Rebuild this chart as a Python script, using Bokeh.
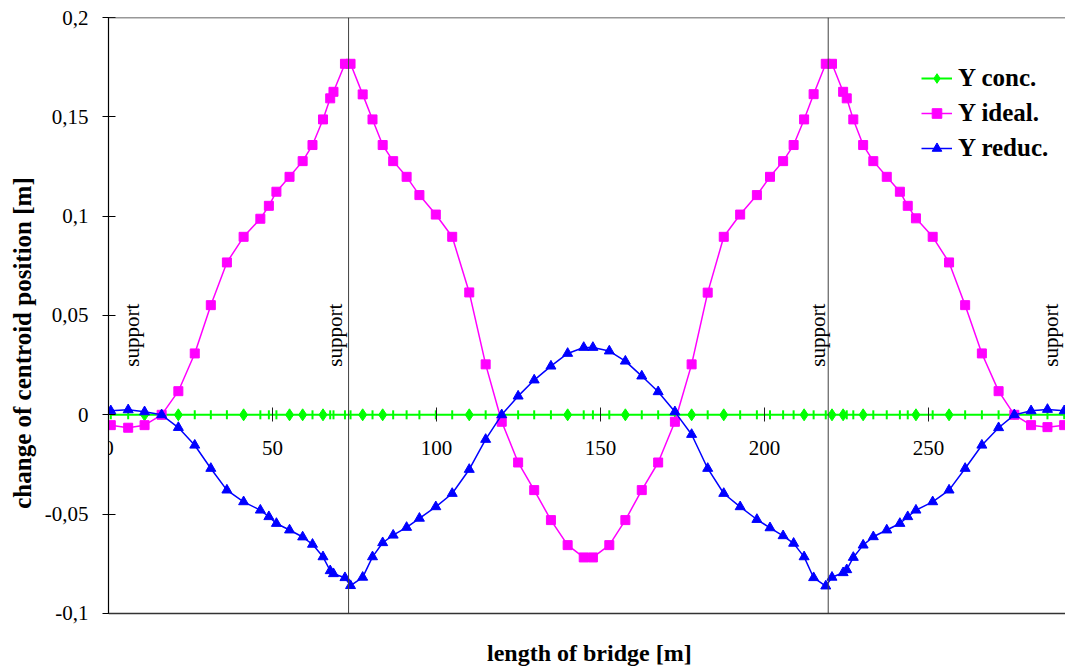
import numpy as np
from bokeh.plotting import figure
from bokeh.models import Span, FixedTicker, Legend, LegendItem, Range1d
from bokeh.embed import file_html
from bokeh.resources import INLINE
from bokeh.core.properties import value

# ---------------- data ----------------
x_pos = [
    0.7, 6.0, 11.0, 16.2, 21.3, 26.3, 31.2, 36.1, 41.2, 46.3,
    48.9, 51.2, 55.2, 59.2, 62.2, 65.4, 67.6, 68.6, 72.1, 73.8,
    77.5, 80.5, 83.6, 86.8, 90.9, 94.8, 99.8, 104.8, 110.0, 115.0,
    119.9, 124.9, 129.8, 134.9, 140.0, 144.9, 147.7, 152.7, 157.6, 162.6,
    167.6, 172.7, 177.8, 182.7, 187.6, 192.6, 197.7, 201.7, 205.7, 208.9,
    212.1, 215.0, 218.7, 220.6, 224.0, 225.1, 227.1, 230.1, 233.2, 237.3,
    241.3, 243.7, 246.2, 251.3, 256.3, 261.2, 266.3, 271.4, 276.2, 281.3,
    286.3, 291.4]

y_conc = [
    0.0, 0.0, 0.0, 0.0, 0.0, 0.0, 0.0, 0.0, 0.0, 0.0,
    0.0, 0.0, 0.0, 0.0, 0.0, 0.0, 0.0, 0.0, 0.0, 0.0,
    0.0, 0.0, 0.0, 0.0, 0.0, 0.0, 0.0, 0.0, 0.0, 0.0,
    0.0, 0.0, 0.0, 0.0, 0.0, 0.0, 0.0, 0.0, 0.0, 0.0,
    0.0, 0.0, 0.0, 0.0, 0.0, 0.0, 0.0, 0.0, 0.0, 0.0,
    0.0, 0.0, 0.0, 0.0, 0.0, 0.0, 0.0, 0.0, 0.0, 0.0,
    0.0, 0.0, 0.0, 0.0, 0.0, 0.0, 0.0, 0.0, 0.0, 0.0,
    0.0, 0.0]

y_ideal = [
    -0.0052, -0.0065, -0.0052, 0.0000, 0.0119, 0.0309, 0.0552, 0.0767, 0.0896, 0.0987,
    0.1052, 0.1123, 0.1198, 0.1277, 0.1358, 0.1487, 0.1593, 0.1626, 0.1767, 0.1767,
    0.1613, 0.1487, 0.1358, 0.1277, 0.1198, 0.1106, 0.1008, 0.0896, 0.0616, 0.0254,
    -0.0035, -0.0240, -0.0379, -0.0530, -0.0656, -0.0718, -0.0718, -0.0656, -0.0530, -0.0379,
    -0.0240, -0.0035, 0.0254, 0.0615, 0.0896, 0.1008, 0.1106, 0.1198, 0.1277, 0.1358,
    0.1487, 0.1614, 0.1767, 0.1767, 0.1626, 0.1593, 0.1487, 0.1358, 0.1277, 0.1198,
    0.1123, 0.1052, 0.0989, 0.0896, 0.0767, 0.0552, 0.0309, 0.0119, 0.0000, -0.0052,
    -0.0062, -0.0052]

y_reduc = [
    0.0020, 0.0025, 0.0015, 0.0000, -0.0064, -0.0153, -0.0270, -0.0379, -0.0438, -0.0480,
    -0.0513, -0.0547, -0.0580, -0.0615, -0.0652, -0.0715, -0.0785, -0.0800, -0.0820, -0.0860,
    -0.0818, -0.0715, -0.0644, -0.0606, -0.0567, -0.0521, -0.0463, -0.0396, -0.0275, -0.0124,
    0.0000, 0.0094, 0.0175, 0.0245, 0.0309, 0.0339, 0.0339, 0.0321, 0.0270, 0.0195,
    0.0116, 0.0015, -0.0099, -0.0270, -0.0396, -0.0463, -0.0527, -0.0569, -0.0609, -0.0647,
    -0.0715, -0.0820, -0.0862, -0.0818, -0.0795, -0.0780, -0.0718, -0.0656, -0.0614, -0.0580,
    -0.0547, -0.0513, -0.0480, -0.0438, -0.0379, -0.0270, -0.0153, -0.0065, 0.0000, 0.0020,
    0.0027, 0.0020]

# marker look of each "Y conc." point as seen in the picture (d = diamond, | = tick)
conc_marker = [
    "|", "|", "d", "|", "d", "|", "|", "|", "d", "|",
    "|", "|", "d", "d", "|", "d", "|", "|", "|", "|",
    "d", "|", "d", "|", "|", "|", "|", "|", "d", "|",
    "|", "|", "|", "|", "d", "|", "|", "|", "d", "|",
    "|", "|", "d", "|", "d", "|", "|", "|", "|", "|",
    "d", "|", "|", "d", "d", "|", "|", "d", "|", "|",
    "|", "|", "d", "|", "d", "|", "|", "|", "|", "|",
    "|", "|"]

support_x = [73.2, 219.45]
support_label_x = [7.3, 69.1, 216.3, 287.3]
support_label_y = 0.0242
support_text = "support"

x_ticks = [0, 50, 100, 150, 200, 250]
y_ticks = [-0.1, -0.05, 0.0, 0.05, 0.1, 0.15, 0.2]
y_tick_labels = ["-0,1", "-0,05", "0", "0,05", "0,1", "0,15", "0,2"]
y_min, y_max = -0.1, 0.2

series_names = ["Y conc.", "Y ideal.", "Y reduc."]
x_title = "length of bridge [m]"
x_title_pos = (146.6, -0.1197)
y_title = "change of centroid position [m]"

# ---------------- figure ----------------
SERIF = "Liberation Serif"
GREEN = "#00FF00"
PINK = "#FF00FF"
BLUE = "#0000FF"

# the frame reaches the bottom of the page, so the x title can be drawn inside it;
# the visible chart area ends at y = -0.1 (bottom line)
p = figure(width=1065, height=668, output_backend="svg", toolbar_location=None,
           x_range=Range1d(0, 291.8), y_range=Range1d(-0.1277, y_max),
           min_border_left=108, min_border_right=0, min_border_top=17,
           min_border_bottom=0)
p.outline_line_color = None
p.xgrid.visible = False
p.ygrid.visible = False
p.background_fill_color = "white"
p.border_fill_color = "white"

# x axis crossing at y = 0
xa = p.xaxis[0]
xa.fixed_location = 0
xa.ticker = FixedTicker(ticks=x_ticks)
xa.axis_line_color = None
xa.major_tick_in = 7
xa.major_tick_out = 7
xa.major_tick_line_color = "#202020"
xa.minor_tick_line_color = None
xa.major_label_text_font = SERIF
xa.major_label_text_font_size = "21px"
xa.major_label_text_color = "black"
xa.major_label_standoff = 19

ya = p.yaxis[0]
ya.bounds = (y_min, y_max)
ya.ticker = FixedTicker(ticks=y_ticks)
ya.major_label_overrides = {t: l for t, l in zip(y_ticks, y_tick_labels)}
ya.axis_line_color = "black"
ya.axis_line_width = 1.2
ya.major_tick_in = 7
ya.major_tick_out = 6
ya.major_tick_line_color = "black"
ya.minor_tick_line_color = None
ya.major_label_text_font = SERIF
ya.major_label_text_font_size = "21px"
ya.major_label_text_color = "black"
ya.major_label_standoff = 14
ya.axis_label = y_title
ya.axis_label_text_font = SERIF
ya.axis_label_text_font_size = "25px"
ya.axis_label_text_font_style = "bold"
ya.axis_label_text_color = "black"
ya.axis_label_standoff = 6

# frame lines (top / bottom)
for loc in (y_max, y_min):
    p.add_layout(Span(location=loc, dimension="width", line_color="#333333", line_width=1.5))

# series
conc_d_x = [x for x, m in zip(x_pos, conc_marker) if m == "d"]
conc_d_y = [y for y, m in zip(y_conc, conc_marker) if m == "d"]
conc_t_x = [x for x, m in zip(x_pos, conc_marker) if m == "|"]
conc_t_y = [y for y, m in zip(y_conc, conc_marker) if m == "|"]

g_line = p.line(x_pos, y_conc, line_color=GREEN, line_width=2)
g_dia = p.scatter(conc_d_x, conc_d_y, marker="diamond", size=12, fill_color=GREEN, line_color=GREEN)
p.scatter(conc_t_x, conc_t_y, marker="dash", angle=np.pi / 2, size=9, line_color=GREEN, line_width=2)

m_line = p.line(x_pos, y_ideal, line_color=PINK, line_width=1.5)
m_sq = p.scatter(x_pos, y_ideal, marker="square", size=9, fill_color=PINK, line_color=PINK)

b_line = p.line(x_pos, y_reduc, line_color=BLUE, line_width=1.5)
b_tri = p.scatter(x_pos, y_reduc, marker="triangle", size=10, fill_color=BLUE, line_color=BLUE)

# supports
p.segment(x0=support_x, y0=[y_min] * len(support_x), x1=support_x, y1=[y_max] * len(support_x),
          line_color="#404040", line_width=1)

p.text(x=support_label_x, y=[support_label_y] * len(support_label_x),
       text=[support_text] * len(support_label_x), angle=np.pi / 2,
       text_align="left", text_baseline="middle", text_color="black",
       text_font=value(SERIF), text_font_size="21px")

# x title
p.text(x=[x_title_pos[0]], y=[x_title_pos[1]], text=[x_title],
       text_align="center", text_baseline="middle", text_color="black",
       text_font=value(SERIF), text_font_size="24px", text_font_style="bold")

# legend
legend = Legend(items=[
    LegendItem(label=series_names[0], renderers=[g_line, g_dia]),
    LegendItem(label=series_names[1], renderers=[m_line, m_sq]),
    LegendItem(label=series_names[2], renderers=[b_line, b_tri]),
], location=(813, 506), orientation="vertical",
    glyph_width=31, glyph_height=24, label_height=24, spacing=7,
    label_standoff=6, padding=0, margin=0,
    border_line_color=None, background_fill_alpha=0,
    label_text_font=SERIF, label_text_font_size="25px",
    label_text_font_style="bold", label_text_color="black")
p.add_layout(legend, "center")

open("out.html", "w").write(file_html(p, INLINE))
